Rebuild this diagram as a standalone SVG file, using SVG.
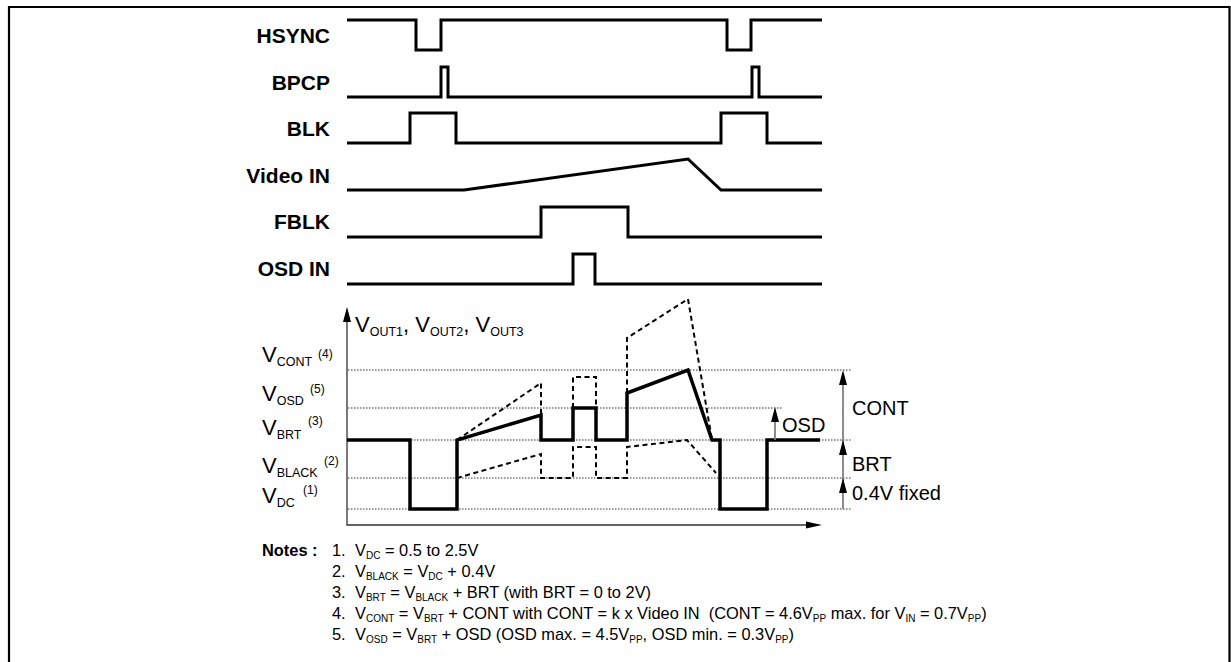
<svg xmlns="http://www.w3.org/2000/svg" width="1231" height="662" viewBox="0 0 1231 662">
<style>
text{font-family:"Liberation Sans",Arial,sans-serif;fill:#000}
.lbl{font-size:21px;font-weight:bold;text-anchor:end}
.sig{fill:none;stroke:#000;stroke-width:3;stroke-linejoin:miter}
.wave{fill:none;stroke:#000;stroke-width:3.5;stroke-linejoin:miter}
.dash{fill:none;stroke:#000;stroke-width:2;stroke-dasharray:5 3.5}
.dot{fill:none;stroke:#333;stroke-width:1;stroke-dasharray:1.5 1.5}
.axis{fill:none;stroke:#333;stroke-width:1.3}
.gray{fill:none;stroke:#808080;stroke-width:1.8}
.v{font-size:22px}
.s{font-size:12.5px}
.sp{font-size:12px}
.r{font-size:20px}
.n{font-size:16.4px}
.ns{font-size:10px}
.ah{fill:#000}
</style>
<defs>
<path id="up" d="M0,0 L-4,15 L4,15 Z"/>
</defs>
<g id="frame"><path d="M9,662 V7 H1229.5 V662" fill="none" stroke="#000" stroke-width="2.2"/></g>

<g id="hsync"><text class="lbl" x="330" y="43">HSYNC</text><path class="sig" d="M347,20 H416 V50 H441 V20 H727 V50 H751 V20 H822"/></g>
<g id="bpcp"><text class="lbl" x="330" y="90">BPCP</text><path class="sig" d="M347,97 H441 V67 H448 V97 H752 V67 H759 V97 H822"/></g>
<g id="blk"><text class="lbl" x="330" y="136">BLK</text><path class="sig" d="M347,143 H410 V113 H456 V143 H721 V113 H767 V143 H822"/></g>
<g id="videoin"><text class="lbl" x="330" y="183">Video IN</text><path class="sig" d="M347,190 H464 L688,159 L721,190 H822"/></g>
<g id="fblk"><text class="lbl" x="330" y="229">FBLK</text><path class="sig" d="M347,237 H541 V207 H628 V237 H822"/></g>
<g id="osdin"><text class="lbl" x="330" y="276">OSD IN</text><path class="sig" d="M347,284 H573 V254 H595 V284 H822"/></g>

<g id="levels">
<path class="dot" d="M348,370 H852 M348,408 H782 M348,440 H852 M348,478 H852 M348,509 H852"/>
</g>
<g id="axes">
<path class="axis" d="M347,318 V525 H808"/>
<use href="#up" class="ah" x="347" y="307"/>
<path class="ah" d="M822,525 L806,521.5 L806,528.5 Z"/>
<text class="v" x="355" y="332">V<tspan class="s" dy="4">OUT1</tspan><tspan dy="-4">, V</tspan><tspan class="s" dy="4">OUT2</tspan><tspan dy="-4">, V</tspan><tspan class="s" dy="4">OUT3</tspan></text>
</g>
<g id="levellabels">
<text class="v" x="262" y="362">V<tspan class="s" dy="4">CONT</tspan></text><text class="sp" x="318" y="358">(4)</text>
<text class="v" x="262" y="401">V<tspan class="s" dy="4">OSD</tspan></text><text class="sp" x="310" y="393">(5)</text>
<text class="v" x="262" y="435">V<tspan class="s" dy="4">BRT</tspan></text><text class="sp" x="308" y="425">(3)</text>
<text class="v" x="262" y="473">V<tspan class="s" dy="4">BLACK</tspan></text><text class="sp" x="324" y="465">(2)</text>
<text class="v" x="262" y="503">V<tspan class="s" dy="4">DC</tspan></text><text class="sp" x="303" y="494">(1)</text>
</g>
<g id="waveform">
<path class="dash" d="M457,440 L541,383 V415 M573,408 V377 H596 V408 M627,393 V338 L688,299 L712,440"/>
<path class="dash" d="M457,478 L541,454 V478 H573 V447 H596 V478 H627 V447 L687,440 L716,473"/>
<path class="wave" d="M347,440 H410 V509 H457 V440 L541,415 V440 H573 V408 H596 V440 H627 V393 L688,370 L712,440 H720 V509 H767 V440 H820"/>
</g>
<g id="connectors">
<path class="gray" d="M775,440 V420"/>
<use href="#up" class="ah" x="775" y="407"/>
<path class="gray" d="M843,509 V383"/>
<use href="#up" class="ah" x="843" y="370"/>
<use href="#up" class="ah" x="843" y="440"/>
<use href="#up" class="ah" x="843" y="478"/>
</g>
<g id="rightlabels">
<text class="r" x="782" y="432">OSD</text>
<text class="r" x="852" y="415">CONT</text>
<text class="r" x="852" y="471">BRT</text>
<text class="r" x="852" y="500">0.4V fixed</text>
</g>
<g id="notes">
<text class="n" x="262" y="556" font-weight="bold">Notes :</text>
<text class="n" x="332" y="556">1.</text>
<text class="n" x="355" y="556">V<tspan class="ns" dy="3">DC</tspan><tspan dy="-3"> = 0.5 to 2.5V</tspan></text>
<text class="n" x="332" y="577">2.</text>
<text class="n" x="355" y="577">V<tspan class="ns" dy="3">BLACK</tspan><tspan dy="-3"> = V</tspan><tspan class="ns" dy="3">DC</tspan><tspan dy="-3"> + 0.4V</tspan></text>
<text class="n" x="332" y="598">3.</text>
<text class="n" x="355" y="598">V<tspan class="ns" dy="3">BRT</tspan><tspan dy="-3"> = V</tspan><tspan class="ns" dy="3">BLACK</tspan><tspan dy="-3"> + BRT (with BRT = 0 to 2V)</tspan></text>
<text class="n" x="332" y="619">4.</text>
<text class="n" x="355" y="619" xml:space="preserve">V<tspan class="ns" dy="3">CONT</tspan><tspan dy="-3"> = V</tspan><tspan class="ns" dy="3">BRT</tspan><tspan dy="-3"> + CONT with CONT = k x Video IN  (CONT = 4.6V</tspan><tspan class="ns" dy="3">PP</tspan><tspan dy="-3"> max. for V</tspan><tspan class="ns" dy="3">IN</tspan><tspan dy="-3"> = 0.7V</tspan><tspan class="ns" dy="3">PP</tspan><tspan dy="-3">)</tspan></text>
<text class="n" x="332" y="640">5.</text>
<text class="n" x="355" y="640">V<tspan class="ns" dy="3">OSD</tspan><tspan dy="-3"> = V</tspan><tspan class="ns" dy="3">BRT</tspan><tspan dy="-3"> + OSD (OSD max. = 4.5V</tspan><tspan class="ns" dy="3">PP</tspan><tspan dy="-3">, OSD min. = 0.3V</tspan><tspan class="ns" dy="3">PP</tspan><tspan dy="-3">)</tspan></text>
</g>
</svg>
